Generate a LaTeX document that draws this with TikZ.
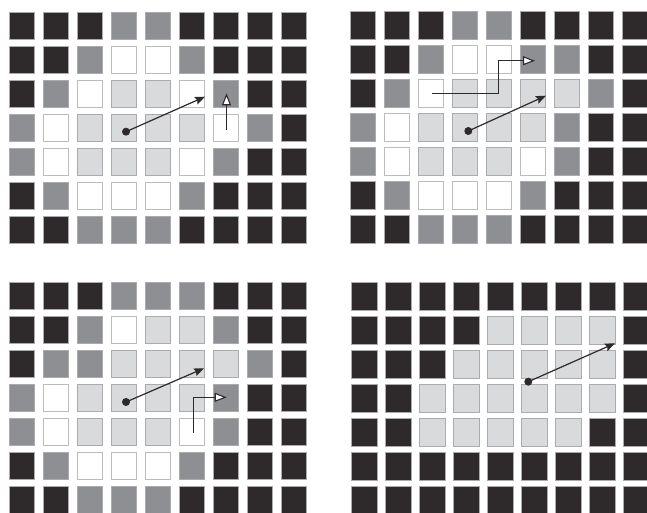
\documentclass[tikz,border=0pt]{standalone}
\usetikzlibrary{arrows.meta}
\definecolor{cB}{HTML}{2E292A}
\definecolor{cG}{HTML}{8E8F92}
\definecolor{cL}{HTML}{D9DADC}
\definecolor{cW}{HTML}{FFFFFF}
\definecolor{edge}{HTML}{ABABAD}
\tikzset{
  cellB/.style={fill=cB,draw=edge,line width=0.5pt},
  cellG/.style={fill=cG,draw=edge,line width=0.5pt},
  cellL/.style={fill=cL,draw=edge,line width=0.5pt},
  cellW/.style={fill=cW,draw=edge!80,line width=0.5pt},
  dotnode/.style={circle,fill=cB,inner sep=0pt,minimum size=8pt},
  diag/.style={draw=cB,line width=1.2pt,-{Stealth[length=10pt,width=8pt,inset=1.5pt]}},
  elbow/.style={draw=cB,line width=1.1pt,-{Triangle[open,length=12pt,width=9pt,fill=white,line width=1.1pt]}}
}
\newcommand\gridcells[3]{%
  \foreach \row [count=\j from 0] in {#3} {
    \foreach \c [count=\i from 0] in \row {
      \path[cell\c] (#1+34*\i, #2+34*\j) rectangle ++(25.3,27.3);
    }
  }
}
\begin{document}
\begin{tikzpicture}[x=1pt,y=-1pt]
\useasboundingbox (0,0) rectangle (647,513);
% top-left
\gridcells{9}{12.3}{{B,B,B,G,G,B,B,B,B},{B,B,G,W,W,G,B,B,B},{B,G,W,L,L,W,G,B,B},{G,W,L,L,L,L,W,G,B},{G,W,L,L,L,W,G,B,B},{B,G,W,W,W,G,B,B,B},{B,B,G,G,G,B,B,B,B}}
% top-right
\gridcells{350}{11.7}{{B,B,B,G,G,B,B,B,B},{B,B,G,W,W,G,G,B,B},{B,G,W,L,L,L,L,G,B},{G,W,L,L,L,L,G,B,B},{G,W,L,L,L,W,G,B,B},{B,G,W,W,W,G,B,B,B},{B,B,G,G,G,B,B,B,B}}
% bottom-left
\gridcells{9}{282.3}{{B,B,B,G,G,G,B,B,B},{B,B,G,W,L,L,G,B,B},{B,G,G,L,L,L,L,G,B},{G,W,L,L,L,L,G,B,B},{G,W,L,L,L,W,G,B,B},{B,G,W,W,W,G,B,B,B},{B,B,G,G,G,B,B,B,B}}
% bottom-right
\gridcells{351.7}{282.5}{{B,B,B,B,B,B,B,B,B},{B,B,B,B,L,L,L,L,B},{B,B,B,L,L,L,L,L,B},{B,B,L,L,L,L,L,L,B},{B,B,L,L,L,L,L,B,B},{B,B,B,B,B,B,B,B,B},{B,B,B,B,B,B,B,B,B}}

% top-left arrows
\node[dotnode] (tlA) at (126,131.7) {};
\coordinate (tlB) at (205,96.7);
\draw[diag] (tlA.center) -- (tlB);
\coordinate (tlS) at (226.5,130);
\coordinate (tlE) at (226.5,93.3);
\draw[elbow] (tlS) -- (tlE);

% top-right arrows
\node[dotnode] (trA) at (468.3,131) {};
\coordinate (trB) at (546,95.7);
\draw[diag] (trA.center) -- (trB);
\coordinate (trS) at (432.3,93.3);
\coordinate (trM) at (498.3,60.7);
\coordinate (trE) at (535,60.7);
\draw[elbow] (trS) -| (trM) -- (trE);

% bottom-left arrows
\node[dotnode] (blA) at (126,402) {};
\coordinate (blB) at (204,368.3);
\draw[diag] (blA.center) -- (blB);
\coordinate (blS) at (193.3,433.3);
\coordinate (blE) at (226.7,397.3);
\draw[elbow] (blS) |- (blE);

% bottom-right arrow
\node[dotnode] (brA) at (528.3,381.7) {};
\coordinate (brB) at (615,343.3);
\draw[diag] (brA.center) -- (brB);
\end{tikzpicture}
\end{document}
